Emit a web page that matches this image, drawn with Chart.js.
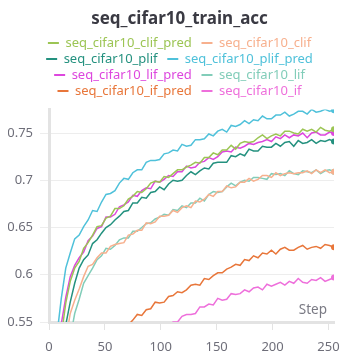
<!DOCTYPE html>
<html>
<head>
<meta charset="utf-8">
<script src="https://cdn.jsdelivr.net/npm/chart.js@4"></script>
<style>
  html, body { margin: 0; padding: 0; background: #fff; }
  #wrap { width: 359px; height: 359px; position: relative; }
</style>
</head>
<body>
<div id="wrap"><canvas id="accChart"></canvas></div>
<script>
// step values shared by all runs
const steps = [3,7,11,15,19,23,27,31,35,39,43,47,51,55,59,63,67,71,75,79,83,87,91,95,99,103,107,111,115,119,123,127,
  131,135,139,143,147,151,155,159,163,167,171,175,179,183,187,191,195,199,203,207,211,215,219,223,227,231,235,239,243,247,251,255];

const clifPred = [0.430,0.490,0.535,0.570,0.593,0.607,0.614,0.628,0.634,0.642,0.651,0.652,0.660,0.662,0.670,0.670,
  0.673,0.680,0.683,0.688,0.687,0.691,0.697,0.699,0.698,0.704,0.703,0.707,0.711,0.711,0.714,0.716,
  0.719,0.718,0.724,0.724,0.729,0.727,0.732,0.732,0.737,0.733,0.739,0.741,0.740,0.741,0.745,0.748,
  0.744,0.747,0.749,0.747,0.752,0.752,0.750,0.749,0.754,0.752,0.754,0.751,0.756,0.753,0.752,0.754];

const clif = [0.380,0.440,0.490,0.531,0.559,0.573,0.585,0.598,0.609,0.611,0.618,0.623,0.623,0.630,0.632,0.633,
  0.634,0.642,0.643,0.647,0.647,0.655,0.654,0.656,0.662,0.662,0.663,0.668,0.666,0.671,0.673,0.671,
  0.678,0.677,0.680,0.685,0.683,0.688,0.688,0.694,0.692,0.693,0.698,0.698,0.702,0.699,0.701,0.705,
  0.705,0.703,0.708,0.705,0.707,0.708,0.707,0.708,0.708,0.710,0.707,0.711,0.708,0.711,0.708,0.709];

const plif = [0.400,0.460,0.510,0.547,0.571,0.591,0.607,0.616,0.621,0.633,0.637,0.644,0.650,0.653,0.658,0.662,
  0.667,0.668,0.676,0.676,0.682,0.681,0.687,0.688,0.693,0.690,0.696,0.700,0.699,0.700,0.705,0.709,
  0.706,0.710,0.713,0.712,0.718,0.719,0.719,0.719,0.726,0.725,0.728,0.726,0.733,0.731,0.731,0.736,
  0.735,0.735,0.739,0.736,0.740,0.741,0.736,0.742,0.739,0.740,0.743,0.739,0.742,0.741,0.743,0.741];

const plifPred = [0.470,0.535,0.575,0.607,0.623,0.638,0.642,0.651,0.658,0.668,0.667,0.677,0.685,0.686,0.689,0.697,
  0.702,0.701,0.708,0.711,0.711,0.719,0.721,0.721,0.722,0.728,0.729,0.732,0.731,0.738,0.736,0.737,
  0.743,0.743,0.744,0.749,0.747,0.752,0.754,0.751,0.758,0.757,0.759,0.763,0.760,0.764,0.763,0.768,
  0.765,0.765,0.769,0.769,0.772,0.768,0.770,0.773,0.773,0.770,0.775,0.772,0.773,0.775,0.773,0.774];

const lifPred = [0.440,0.500,0.548,0.576,0.598,0.610,0.618,0.624,0.636,0.641,0.649,0.651,0.661,0.661,0.664,0.672,
  0.674,0.677,0.684,0.683,0.689,0.692,0.691,0.699,0.698,0.701,0.705,0.704,0.709,0.709,0.715,0.713,
  0.714,0.719,0.720,0.724,0.722,0.725,0.730,0.731,0.730,0.735,0.734,0.736,0.739,0.738,0.740,0.741,
  0.743,0.741,0.746,0.744,0.748,0.745,0.748,0.747,0.750,0.745,0.750,0.751,0.748,0.748,0.751,0.750];

const lif = [0.350,0.410,0.460,0.500,0.533,0.559,0.574,0.591,0.599,0.607,0.616,0.620,0.628,0.627,0.631,0.637,
  0.639,0.639,0.646,0.646,0.650,0.654,0.655,0.659,0.661,0.664,0.663,0.669,0.668,0.673,0.671,0.676,
  0.676,0.681,0.678,0.685,0.688,0.687,0.688,0.693,0.697,0.694,0.698,0.700,0.699,0.703,0.703,0.702,
  0.701,0.707,0.706,0.707,0.705,0.710,0.707,0.706,0.710,0.709,0.708,0.711,0.707,0.710,0.711,0.709];

const ifPred = [0.300,0.340,0.380,0.410,0.430,0.450,0.465,0.480,0.490,0.500,0.510,0.517,0.524,0.530,0.535,0.540,
  0.544,0.547,0.552,0.558,0.557,0.563,0.564,0.571,0.570,0.571,0.577,0.578,0.582,0.581,0.584,0.589,
  0.590,0.589,0.596,0.595,0.599,0.602,0.602,0.606,0.608,0.611,0.610,0.616,0.615,0.620,0.618,0.623,
  0.622,0.626,0.622,0.627,0.629,0.626,0.626,0.629,0.631,0.627,0.629,0.630,0.628,0.632,0.631,0.629];

const ifRun = [0.250,0.290,0.320,0.350,0.370,0.390,0.405,0.420,0.435,0.447,0.458,0.468,0.477,0.485,0.492,0.499,
  0.505,0.511,0.516,0.521,0.525,0.529,0.533,0.537,0.540,0.543,0.546,0.550,0.550,0.556,0.558,0.558,
  0.559,0.566,0.566,0.569,0.568,0.575,0.573,0.574,0.580,0.579,0.580,0.584,0.582,0.586,0.587,0.584,
  0.590,0.588,0.590,0.592,0.589,0.593,0.591,0.596,0.592,0.591,0.595,0.594,0.597,0.593,0.595,0.597];

const seriesNames = ['seq_cifar10_clif_pred','seq_cifar10_clif','seq_cifar10_plif','seq_cifar10_plif_pred',
  'seq_cifar10_lif_pred','seq_cifar10_lif','seq_cifar10_if_pred','seq_cifar10_if'];
const seriesValues = [clifPred, clif, plif, plifPred, lifPred, lif, ifPred, ifRun];
const seriesColors = ['#9cc554','#f7b08e','#24917f','#4fc1da','#dd47de','#82cdb9','#e8763a','#ee6fdb'];

const xTicks = [0, 50, 100, 150, 200, 250];
const yTicks = [0.55, 0.6, 0.65, 0.7, 0.75];

const FONT = '"Noto Sans", "Open Sans", sans-serif';
const TICK_COLOR = '#6e6e79';

// "Step" caption sitting inside the plot, bottom right
const stepLabel = {
    id: 'stepLabel',
    afterDraw(chart) {
        const { ctx, chartArea } = chart;
        ctx.save();
        ctx.font = '13.5px ' + FONT;
        ctx.fillStyle = '#7a7a84';
        ctx.textAlign = 'right';
        ctx.textBaseline = 'alphabetic';
        ctx.fillText('Step', chartArea.right - 7, chartArea.bottom - 8);
        ctx.restore();
    }
};

// a little extra room under the legend
const legendGap = {
    id: 'legendGap',
    beforeInit(chart) {
        const origFit = chart.legend.fit;
        chart.legend.fit = function () {
            origFit.bind(chart.legend)();
            this.height += 2;
        };
    }
};

const datasets = seriesNames.map((name, i) => ({
    label: name,
    data: steps.map((s, j) => ({ x: s, y: seriesValues[i][j] })),
    borderColor: seriesColors[i],
    backgroundColor: seriesColors[i],
    borderWidth: 1.5,
    tension: 0,
    pointRadius: c => c.dataIndex === steps.length - 1 ? 3 : 0,
    pointHoverRadius: 0,
    pointBorderWidth: 0
}));

new Chart(document.getElementById('accChart'), {
    type: 'line',
    data: { datasets },
    plugins: [stepLabel, legendGap],
    options: {
        responsive: true,
        maintainAspectRatio: false,
        animation: false,
        layout: { padding: { left: 8, right: 8, top: 0, bottom: 0 } },
        plugins: {
            title: {
                display: true,
                text: 'seq_cifar10_train_acc',
                color: '#3a3a43',
                font: { family: FONT, size: 17, weight: 'bold' },
                padding: { top: 9, bottom: 4 }
            },
            legend: {
                position: 'top',
                labels: {
                    font: { family: FONT, size: 13 },
                    boxWidth: 11,
                    boxHeight: 2,
                    padding: 3,
                    generateLabels: chart => chart.data.datasets.map((ds, i) => ({
                        text: ds.label + (i % 2 === 0 ? '  ' : ''),
                        fillStyle: ds.borderColor,
                        strokeStyle: ds.borderColor,
                        lineWidth: 0,
                        fontColor: ds.borderColor,
                        hidden: false,
                        datasetIndex: i
                    }))
                }
            },
            tooltip: { enabled: false }
        },
        scales: {
            x: {
                type: 'linear',
                min: 0,
                max: 255,
                afterBuildTicks: s => { s.ticks = xTicks.map(v => ({ value: v })); },
                afterFit: s => { s.height = 37; },
                grid: { drawOnChartArea: false, color: '#e3e3e3', tickLength: 8 },
                border: { color: '#e3e3e3', width: 3 },
                ticks: { color: TICK_COLOR, font: { family: FONT, size: 13 }, padding: 9, maxRotation: 0 }
            },
            y: {
                min: 0.55,
                max: 0.775,
                afterBuildTicks: s => { s.ticks = yTicks.map(v => ({ value: v })); },
                afterFit: s => { s.width = 41; },
                grid: { color: '#ededed', tickLength: 9 },
                border: { color: '#e3e3e3', width: 3 },
                ticks: { color: TICK_COLOR, font: { family: FONT, size: 13 }, padding: 7, callback: v => String(v) }
            },
            yRight: {
                position: 'right',
                display: true,
                afterFit: s => { s.width = 17; },
                grid: { display: false },
                border: { display: false },
                ticks: { display: false }
            }
        }
    }
});
</script>
</body>
</html>
